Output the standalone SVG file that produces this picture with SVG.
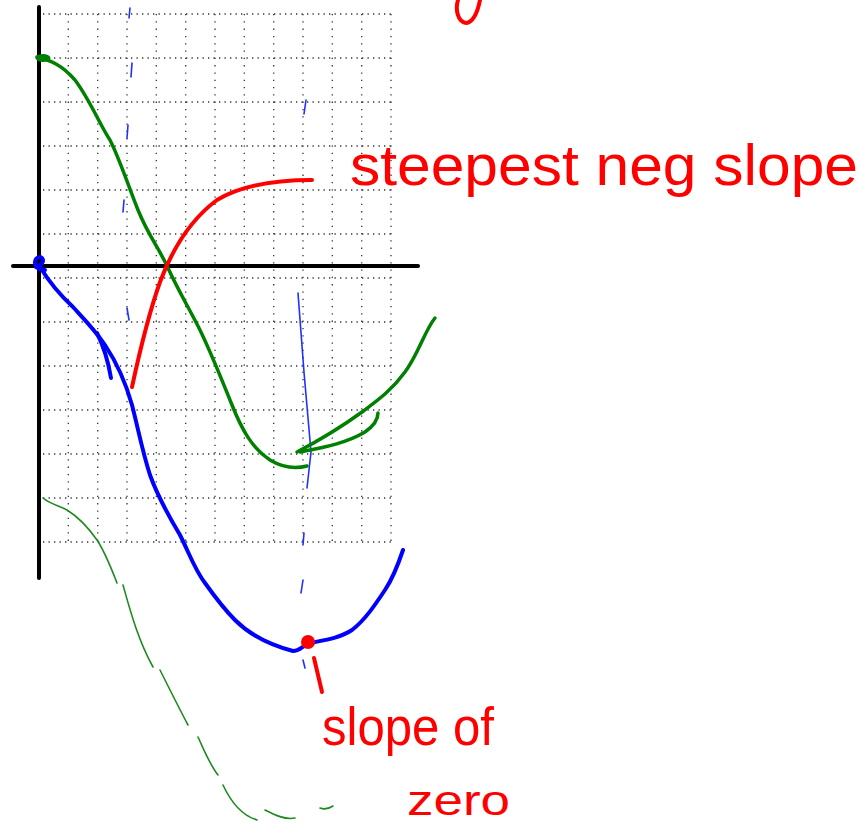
<svg xmlns="http://www.w3.org/2000/svg" width="863" height="828" viewBox="0 0 863 828">
<style>
.gh{stroke:#333;stroke-width:1.3;stroke-dasharray:1.3 4.2;fill:none}
.gv{stroke:#333;stroke-width:1.3;stroke-dasharray:1.3 6;fill:none}
.ax{stroke:#000;stroke-width:4;stroke-linecap:round;fill:none}
.gr{stroke:#008000;stroke-width:3.5;stroke-linecap:round;stroke-linejoin:round;fill:none}
.grt{stroke:#1e8a1e;stroke-width:1.6;stroke-linecap:round;fill:none}
.bl{stroke:#0000ff;stroke-width:4;stroke-linecap:round;stroke-linejoin:round;fill:none}
.blt{stroke:#2030ff;stroke-width:1.6;stroke-linecap:round;fill:none}
.rd{stroke:#ff0000;stroke-width:4;stroke-linecap:round;stroke-linejoin:round;fill:none}
.tx{fill:#ff0000;font-family:"Liberation Sans",Arial,sans-serif}
</style>
<rect width="863" height="828" fill="#fff"/>
<g id="grid">
<path class="gh" d="M43,14H391M43,58H391M43,102H391M43,146H391M43,190H391M43,234H391M43,278H391M43,322H391M43,366H391M43,410H391M43,454H391M43,498H391M43,542H391"/>
<path class="gv" d="M68.3,14V542M97.7,14V542M127,14V542M156.3,14V542M185.7,14V542M215,14V542M244.3,14V542M273.7,14V542M303,14V542M332.3,14V542M361.7,14V542M391,14V542"/>
</g>
<g id="axes">
<path class="ax" d="M39,7V578"/>
<path class="ax" d="M13,266H418"/>
</g>
<g id="blue-guides">
<path class="blt" d="M130,8L129,18M132,63L131,77M128,125L127,138M124,200L123,212M127,308L129,320"/>
<path class="blt" d="M306,100L304,114M298,293C302,350 308,420 311,452L307,488M304,533L303,545M303,580L301,593M303,660L305,668"/>
</g>
<g id="green-curve">
<ellipse cx="43" cy="58" rx="7.5" ry="4" fill="#008000"/>
<path class="gr" d="M37,57C50,60 62,65 75,80C90,100 100,125 110,140C120,160 128,185 138,210C148,235 160,250 168,268C178,290 190,310 200,330C212,355 222,380 232,405C242,430 252,448 270,460C280,466 292,470 307,466"/>
<path class="gr" d="M297,452C320,440 340,428 362,412C378,400 392,390 405,372C418,355 425,330 435,318"/>
<path class="gr" d="M300,452C320,448 345,444 365,432C375,425 378,418 378,413"/>
</g>
<g id="green-lower">
<path class="grt" d="M43,498C50,504 60,506 67,510C80,518 90,530 97,540C105,552 112,570 117,583"/>
<path class="grt" d="M123,585C130,610 138,640 153,667"/>
<path class="grt" d="M160,670C170,690 180,710 188,725"/>
<path class="grt" d="M198,737C205,752 210,765 218,775"/>
<path class="grt" d="M223,785C230,800 240,815 257,820"/>
<path class="grt" d="M265,810C275,815 285,820 295,818"/>
<path class="grt" d="M320,808C325,810 330,808 333,806"/>
</g>
<g id="blue-curve">
<path class="bl" d="M36,267C40,266 45,262 42,258C38,255 33,260 36,266C38,270 42,270 45,270"/>
<path class="bl" d="M40,267C48,280 60,295 73,307C85,320 95,330 105,345C115,360 125,380 132,405C138,428 142,450 150,475C158,497 168,515 180,535C190,555 195,570 205,583C215,597 225,610 235,620C250,635 270,645 293,651C300,651 303,645 310,643C325,640 340,638 352,630C365,620 375,605 385,590C393,578 398,565 403,550"/>
<path class="bl" d="M97,333C103,345 108,360 111,378"/>
</g>
<g id="red-curve">
<path class="rd" d="M132,387C140,350 150,310 160,282C172,250 190,220 217,200C240,186 270,180 312,180"/>
<circle cx="308" cy="642" r="7" fill="#ff0000"/>
<path class="rd" d="M314,658L322,692"/>
<path class="rd" d="M458,0C455,10 458,22 466,23C474,22 478,10 480,0"/>
</g>
<g id="labels">
<text class="tx" x="350" y="185" font-size="58" textLength="508" lengthAdjust="spacingAndGlyphs">steepest neg slope</text>
<text class="tx" x="322" y="745" font-size="54" textLength="172" lengthAdjust="spacingAndGlyphs">slope of</text>
<text class="tx" x="407" y="815" font-size="42" textLength="103" lengthAdjust="spacingAndGlyphs">zero</text>
</g>
</svg>
